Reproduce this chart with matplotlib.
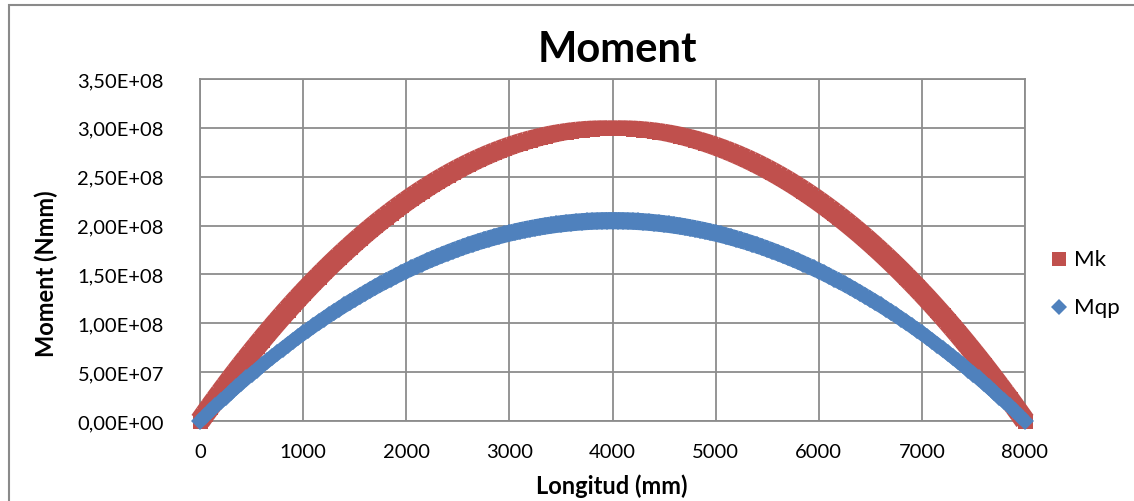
import matplotlib
matplotlib.use("Agg")
import numpy as np
import matplotlib.pyplot as plt
from matplotlib.patches import Rectangle
from matplotlib.lines import Line2D
from matplotlib.collections import LineCollection

# Data: x in mm (step 50 mm), moments in 1e6 Nmm.
# Values for the first half (0..4000 mm); the curves are symmetric about 4000 mm.
x_mm = [i * 50 for i in range(161)]
mk_half = [0.00, 7.45, 14.81, 22.08, 29.25, 36.33, 43.31, 50.20, 57.00, 63.70,
           70.31, 76.83, 83.25, 89.58, 95.81, 101.95, 108.00, 113.95, 119.81, 125.58,
           131.25, 136.83, 142.31, 147.70, 153.00, 158.20, 163.31, 168.33, 173.25, 178.08,
           182.81, 187.45, 192.00, 196.45, 200.81, 205.08, 209.25, 213.33, 217.31, 221.20,
           225.00, 228.70, 232.31, 235.83, 239.25, 242.58, 245.81, 248.95, 252.00, 254.95,
           257.81, 260.58, 263.25, 265.83, 268.31, 270.70, 273.00, 275.20, 277.31, 279.33,
           281.25, 283.08, 284.81, 286.45, 288.00, 289.45, 290.81, 292.08, 293.25, 294.33,
           295.31, 296.20, 297.00, 297.70, 298.31, 298.83, 299.25, 299.58, 299.81, 299.95,
           300.00]
mqp_half = [0.00, 5.09, 10.12, 15.09, 19.99, 24.82, 29.60, 34.30, 38.95, 43.53,
            48.05, 52.50, 56.89, 61.21, 65.47, 69.67, 73.80, 77.87, 81.87, 85.81,
            89.69, 93.50, 97.25, 100.93, 104.55, 108.11, 111.60, 115.02, 118.39, 121.69,
            124.92, 128.09, 131.20, 134.24, 137.22, 140.14, 142.99, 145.78, 148.50, 151.15,
            153.75, 156.28, 158.75, 161.15, 163.49, 165.77, 167.97, 170.12, 172.20, 174.22,
            176.17, 178.06, 179.89, 181.65, 183.35, 184.98, 186.55, 188.06, 189.50, 190.88,
            192.19, 193.44, 194.62, 195.74, 196.80, 197.79, 198.72, 199.59, 200.39, 201.13,
            201.80, 202.40, 202.95, 203.43, 203.85, 204.20, 204.49, 204.72, 204.87, 204.97,
            205.00]
mk_vals = mk_half + mk_half[-2::-1]
mqp_vals = mqp_half + mqp_half[-2::-1]
mk = [v * 1e6 for v in mk_vals]
mqp = [v * 1e6 for v in mqp_vals]

series_names = ["Mk", "Mqp"]
x_ticks = [0, 1000, 2000, 3000, 4000, 5000, 6000, 7000, 8000]
y_ticks = [0, 5e7, 1e8, 1.5e8, 2e8, 2.5e8, 3e8, 3.5e8]
y_tick_labels = ["0,00E+00", "5,00E+07", "1,00E+08", "1,50E+08", "2,00E+08",
                 "2,50E+08", "3,00E+08", "3,50E+08"]

RED = "#C0504D"
BLUE = "#4F81BD"
GRID = "#8C8C8C"
FONT = "Lato"
SQ = 10.8   # square marker size (pt)
DM = 8.8    # diamond marker size (pt)

W, H = 1134, 502
fig = plt.figure(figsize=(W / 100, H / 100), dpi=100)
fig.patch.set_facecolor("white")

# chart border
fig.patches.append(Rectangle((8.5 / W, -0.05), 1.2, 1 - 5.5 / H + 0.05,
                             transform=fig.transFigure, fill=False,
                             edgecolor="#8A8A8A", lw=1.5))

ax = fig.add_axes([200 / W, 1 - 422 / H, 825 / W, 342 / H])
ax.set_xlim(0, 8000)
ax.set_ylim(0, 3.5e8)


def marker_band(xs, ys, size_pt, diamond, color, z):
    """Smooth envelope under densely packed markers (as Excel draws them)."""
    pts = ax.transData.transform(np.column_stack([xs, ys]))
    d = np.diff(pts, axis=0)
    theta = np.arctan2(d[:, 1], d[:, 0])
    if diamond:
        side = size_pt / np.sqrt(2)
        widths = side * (np.abs(np.cos(theta - np.pi / 4)) +
                         np.abs(np.sin(theta - np.pi / 4)))
    else:
        widths = size_pt * (np.abs(np.cos(theta)) + np.abs(np.sin(theta)))
    segs = [[(xs[i], ys[i]), (xs[i + 1], ys[i + 1])] for i in range(len(xs) - 1)]
    lc = LineCollection(segs, linewidths=widths, colors=color, capstyle="butt",
                        zorder=z, clip_on=False)
    ax.add_collection(lc)


marker_band(x_mm, mk, SQ, False, RED, 3)
ax.plot(x_mm, mk, linestyle="none", marker="s", markersize=SQ,
        color=RED, markeredgewidth=0, zorder=3.1, clip_on=False)
marker_band(x_mm, mqp, DM * np.sqrt(2), True, BLUE, 4)
ax.plot(x_mm, mqp, linestyle="none", marker="D", markersize=DM,
        color=BLUE, markeredgewidth=0, zorder=4.1, clip_on=False)

ax.set_xticks(x_ticks)
ax.set_xticklabels([str(t) for t in x_ticks])
ax.set_yticks(y_ticks)
ax.set_yticklabels(y_tick_labels)
ax.tick_params(length=0, labelsize=14.5, colors="black")
ax.tick_params(axis="y", pad=26)
ax.tick_params(axis="x", pad=16)
for lab in ax.get_xticklabels() + ax.get_yticklabels():
    lab.set_fontfamily(FONT)
ax.grid(True, color=GRID, lw=1.3)
ax.set_axisbelow(True)
for s in ax.spines.values():
    s.set_color(GRID)
    s.set_linewidth(1.3)

fig.text(617 / W, 1 - 50 / H, "Moment", ha="center", va="center",
         fontsize=30, fontweight="bold", family=FONT)
fig.text(612 / W, 1 - 486 / H, "Longitud (mm)", ha="center", va="center",
         fontsize=17, fontweight="bold", family=FONT)
fig.text(46 / W, 1 - 274 / H, "Moment (Nmm)", ha="center", va="center",
         rotation=90, fontsize=17, fontweight="bold", family=FONT)

# legend
leg_y = [260, 308]
leg_markers = [("s", 10.0, RED), ("D", 8.0, BLUE)]
for name, yy, (mk_style, ms, col) in zip(series_names, leg_y, leg_markers):
    fig.add_artist(Line2D([1059 / W], [1 - yy / H], linestyle="none",
                          marker=mk_style, markersize=ms, color=col,
                          markeredgewidth=0, transform=fig.transFigure))
    fig.text(1074 / W, 1 - yy / H, name, ha="left", va="center",
             fontsize=16, family=FONT)

fig.savefig("out.png", dpi=100)
